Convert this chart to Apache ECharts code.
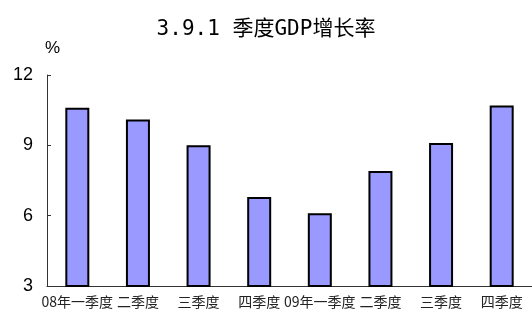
<!DOCTYPE html>
<html>
<head>
<meta charset="utf-8">
<style>
html, body { margin: 0; padding: 0; background: #fff; }
#chart { width: 532px; height: 314px; }
</style>
<script src="https://cdn.jsdelivr.net/npm/echarts@6/dist/echarts.min.js"></script>
</head>
<body>
<div id="chart"></div>
<script>
// 季度GDP增长率 (%)
var quarters = ["08年一季度", "二季度", "三季度", "四季度", "09年一季度", "二季度", "三季度", "四季度"];
var growth = [10.6, 10.1, 9.0, 6.8, 6.1, 7.9, 9.1, 10.7];
var yTicks = [3, 6, 9, 12];

var chart = echarts.init(document.getElementById("chart"));

var option = {
  animation: false,
  title: {
    text: "3.9.1 季度GDP增长率",
    left: "center",
    top: 14,
    textStyle: {
      fontFamily: "'DejaVu Sans Mono', 'Noto Sans CJK SC'",
      fontWeight: "normal",
      fontSize: 21,
      color: "#000"
    }
  },
  grid: {
    left: 47,
    right: -8,
    top: 75,
    bottom: 28
  },
  xAxis: {
    type: "category",
    data: quarters,
    axisLine: { lineStyle: { color: "#333", width: 1 } },
    axisTick: { inside: true, length: 4, lineStyle: { color: "#333" } },
    axisLabel: {
      interval: 0,
      margin: 9,
      fontSize: 14,
      color: "#222",
      fontFamily: "Noto Sans CJK SC"
    }
  },
  yAxis: {
    type: "value",
    name: "%",
    nameGap: 18,
    nameTextStyle: { fontSize: 17, color: "#000", fontFamily: "Liberation Sans", align: "left", padding: [0, 0, 0, -2] },
    min: yTicks[0],
    max: yTicks[yTicks.length - 1],
    interval: 3,
    axisLine: { show: true, lineStyle: { color: "#333", width: 1 } },
    axisTick: { show: true, inside: true, length: 4, lineStyle: { color: "#333" } },
    splitLine: { show: false },
    axisLabel: {
      margin: 14,
      fontSize: 18,
      color: "#000",
      fontFamily: "Liberation Sans"
    }
  },
  series: [{
    type: "bar",
    data: growth,
    barWidth: 24,
    itemStyle: {
      color: "#9999ff",
      borderColor: "#000",
      borderWidth: 2
    }
  }]
};

chart.setOption(option);
</script>
</body>
</html>
